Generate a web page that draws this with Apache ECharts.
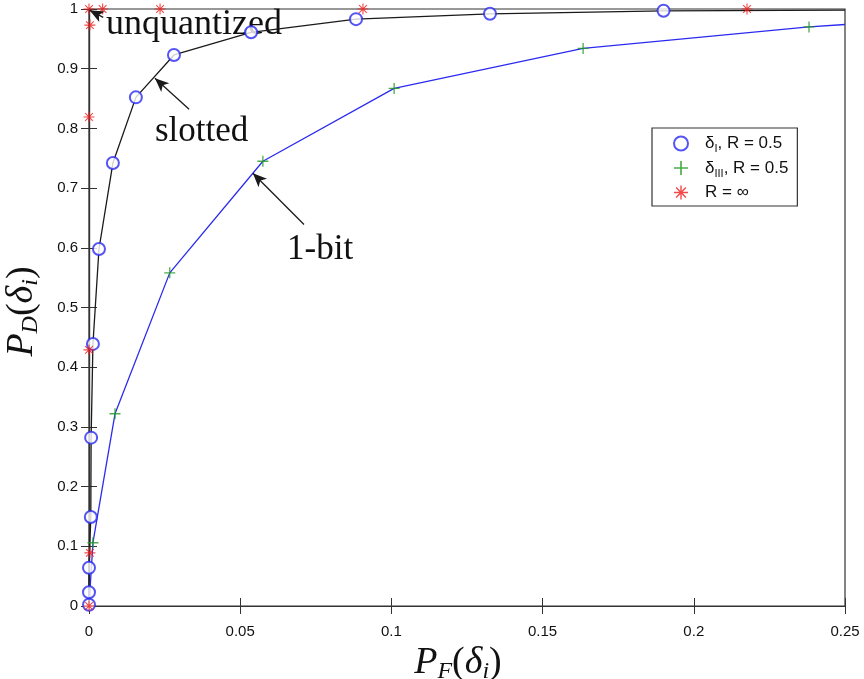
<!DOCTYPE html>
<html>
<head>
<meta charset="utf-8">
<script src="https://cdn.jsdelivr.net/npm/echarts@6/dist/echarts.min.js"></script>
<style>
  html, body { margin: 0; padding: 0; background: #fff; }
  #chart { width: 864px; height: 679px; }
</style>
</head>
<body>
<div id="chart"></div>
<script>
// delta_I, R = 0.5 (circles on the slotted curve)
const slottedPts = [
  [0, 0.002], [0, 0.023], [0, 0.064], [0.0006, 0.149], [0.0007, 0.282],
  [0.0013, 0.439], [0.0033, 0.598], [0.0079, 0.742], [0.0155, 0.852],
  [0.0281, 0.923], [0.0536, 0.961], [0.0883, 0.983], [0.1326, 0.992], [0.190, 0.997]
]
const slottedStart = [0, 0]
const slottedEnd = [0.25, 0.998]

// delta_III, R = 0.5 (plus marks on the 1-bit curve)
const oneBitPts = [
  [0.0013, 0.106], [0.0086, 0.322], [0.0267, 0.558], [0.0575, 0.745],
  [0.1009, 0.867], [0.1634, 0.934], [0.2381, 0.970]
]
const oneBitStart = [0, 0]
const oneBitEnd = [0.25, 0.974]

// R = infinity (unquantized)
const unquantPts = [
  [0, 0], [0.0003, 0.089], [0, 0.429], [0, 0.819], [0.0003, 0.973], [0, 1],
  [0.0045, 1], [0.0235, 1], [0.0906, 1], [0.2176, 1]
]

// annotation arrows [tail, head]
const arrows = [
  [[0.0047, 0.986], [0.0002, 0.998]],
  [[0.0331, 0.832], [0.0218, 0.884]],
  [[0.0711, 0.639], [0.0542, 0.725]]
]

const colors = {
  black: '#1a1a1a',
  blue: '#2b2bf0',
  green: '#1e9a1e',
  red: '#f01c1c'
}

const plusIcon = 'path://M4.4,0H5.6V4.4H10V5.6H5.6V10H4.4V5.6H0V4.4H4.4Z'
const starIcon = 'path://M4.5,0H5.5V10H4.5Z M0,4.5H10V5.5H0Z M1.85,1.15L8.85,8.15L8.15,8.85L1.15,1.85Z M8.85,1.85L1.85,8.85L1.15,8.15L8.15,1.15Z'

const chart = echarts.init(document.getElementById('chart'))

const tickFont = { fontFamily: 'Liberation Sans', fontSize: 15, color: '#111' }
const axisLine = { show: true, lineStyle: { color: '#333', width: 1.2 } }
const mathRich = {
  m: { fontFamily: 'Liberation Serif', fontStyle: 'italic', fontSize: 38, color: '#111' },
  p: { fontFamily: 'Liberation Serif', fontSize: 38, color: '#111' },
  s: { fontFamily: 'Liberation Serif', fontStyle: 'italic', fontSize: 24, color: '#111', padding: [18, 0, 0, 0] }
}
const annoFont = '35px "Liberation Serif"'

chart.setOption({
  animation: false,
  grid: {
    left: 89, right: 19, top: 9, bottom: 73,
    containLabel: false, outerBoundsMode: 'none',
    show: true, borderColor: '#333', borderWidth: 1.2
  },
  legend: {
    orient: 'vertical',
    left: 652,
    top: 128,
    padding: [7, 9, 5, 21],
    itemGap: 5,
    itemWidth: 14,
    itemHeight: 14,
    borderColor: '#333',
    borderWidth: 1.2,
    borderRadius: 0,
    data: [
      { name: 'dI', icon: 'emptyCircle' },
      { name: 'dIII', icon: plusIcon },
      { name: 'Rinf', icon: starIcon }
    ],
    formatter: function (name) {
      if (name === 'dI') return '{g|}{t|δ}{s|I}{t|, R = 0.5}'
      if (name === 'dIII') return '{g|}{t|δ}{s|III}{t|, R = 0.5}'
      return '{g|}{t|R = ∞}'
    },
    textStyle: {
      rich: {
        g: { width: 12 },
        t: { fontFamily: 'Liberation Sans', fontSize: 17, color: '#111' },
        s: { fontFamily: 'Liberation Sans', fontSize: 11, color: '#111', padding: [11, 0, 0, 0] }
      }
    }
  },
  xAxis: [
    {
      type: 'value', min: 0, max: 0.25, interval: 0.05,
      axisLine: axisLine,
      axisTick: { inside: true, length: 8, lineStyle: { color: '#333' } },
      axisLabel: Object.assign({ margin: 18 }, tickFont),
      splitLine: { show: false },
      name: '{m|P}{s|F}{p|(}{m|δ}{s|i}{p|)}',
      nameLocation: 'middle',
      nameGap: 36,
      nameTextStyle: { rich: mathRich, padding: [0, 18, 0, 0] }
    },
    {
      type: 'value', position: 'top', min: 0, max: 0.25, interval: 0.05,
      axisLine: axisLine,
      axisTick: { inside: true, length: 8, lineStyle: { color: '#333' } },
      axisLabel: { show: false },
      splitLine: { show: false }
    }
  ],
  yAxis: [
    {
      type: 'value', min: 0, max: 1, interval: 0.1,
      axisLine: axisLine,
      axisTick: { inside: true, length: 8, lineStyle: { color: '#333' } },
      axisLabel: Object.assign({ margin: 11 }, tickFont),
      splitLine: { show: false },
      name: '{m|P}{s|D}{p|(}{m|δ}{s|i}{p|)}',
      nameLocation: 'middle',
      nameRotate: 90,
      nameGap: 46,
      nameTextStyle: { rich: mathRich, padding: [0, 8, 0, 0] }
    },
    {
      type: 'value', position: 'right', min: 0, max: 1, interval: 0.1,
      axisLine: axisLine,
      axisTick: { inside: true, length: 8, lineStyle: { color: '#333' } },
      axisLabel: { show: false },
      splitLine: { show: false }
    }
  ],
  graphic: [
    { type: 'text', left: 106, top: 7, style: { text: 'unquantized', font: '36px "Liberation Serif"', fill: '#111' } },
    { type: 'text', left: 155, top: 114, style: { text: 'slotted', font: annoFont, fill: '#111' } },
    { type: 'text', left: 287, top: 232, style: { text: '1-bit', font: annoFont, fill: '#111' } }
  ],
  series: [
    {
      name: 'slottedLine',
      type: 'line',
      data: [slottedStart].concat(slottedPts, [slottedEnd]),
      showSymbol: false,
      symbol: 'none',
      lineStyle: { color: colors.black, width: 1.3 },
      silent: true,
      z: 1,
      markLine: {
        silent: true,
        symbol: ['none', 'arrow'],
        symbolSize: [9, 14],
        label: { show: false },
        lineStyle: { color: colors.black, width: 1.3, type: 'solid' },
        data: arrows.map(a => [{ coord: a[0] }, { coord: a[1] }])
      }
    },
    {
      name: 'oneBitLine',
      type: 'line',
      data: [oneBitStart].concat(oneBitPts, [oneBitEnd]),
      showSymbol: false,
      symbol: 'none',
      lineStyle: { color: colors.blue, width: 1.3 },
      silent: true,
      z: 1
    },
    {
      name: 'dI',
      type: 'scatter',
      data: slottedPts,
      symbol: 'emptyCircle',
      symbolSize: 12,
      itemStyle: { color: colors.blue, borderColor: colors.blue, borderWidth: 1.3 },
      z: 3
    },
    {
      name: 'dIII',
      type: 'scatter',
      data: oneBitPts,
      symbol: plusIcon,
      symbolSize: 11,
      itemStyle: { color: colors.green },
      z: 3
    },
    {
      name: 'Rinf',
      type: 'scatter',
      data: unquantPts,
      symbol: starIcon,
      symbolSize: 11,
      itemStyle: { color: colors.red },
      clip: false,
      z: 4
    }
  ]
})
</script>
</body>
</html>
